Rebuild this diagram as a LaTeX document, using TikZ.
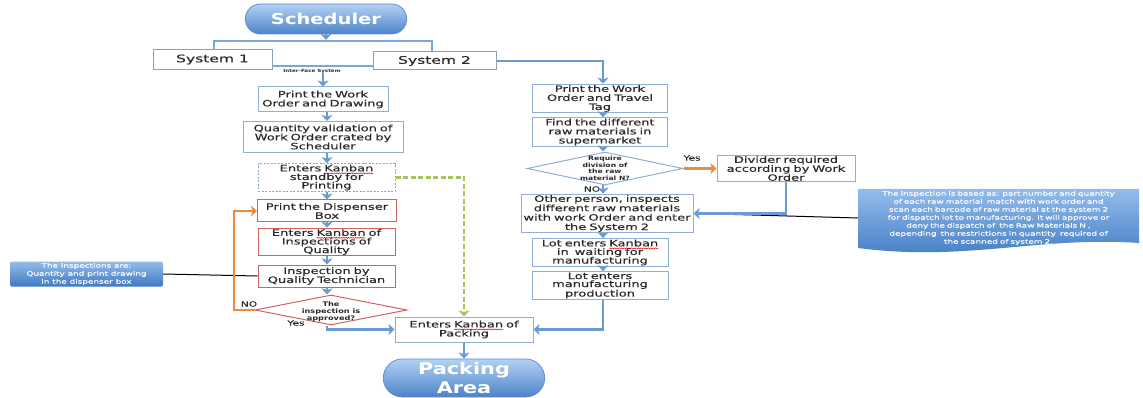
\documentclass[tikz,border=0pt]{standalone}
\usepackage{fontspec}
\usetikzlibrary{shapes.geometric,shapes.misc,arrows.meta,calc,decorations.pathmorphing}
\newfontfamily\dv{DejaVu Sans}[FakeStretch=1.3]
\newfontfamily\dvm{DejaVu Sans}[FakeStretch=1.48, FakeBold=0.3]
% red spelling squiggle under a word
\newlength\sqwidth
\newcommand\sq[1]{\settowidth\sqwidth{#1}%
  \rlap{#1}%
  \tikz[baseline=0pt,overlay]\draw[red, line width=0.5pt, solid, fill=none, -,
    decorate, decoration={snake, amplitude=0.5pt, segment length=2.4pt}]
    (0pt,-2pt) -- (\sqwidth,-2pt);%
  \kern\sqwidth}
\definecolor{boxblue}{HTML}{8EAFD6}
\definecolor{boxred}{HTML}{D2625F}
\definecolor{arrowblue}{HTML}{6A9BD3}
\definecolor{ifblue}{HTML}{7AA6DA}
\definecolor{orangeline}{HTML}{F08A3C}
\definecolor{greendash}{HTML}{A8C460}
\definecolor{pilltop}{HTML}{B3D2F3}
\definecolor{pillbot}{HTML}{4C83C9}
\definecolor{notetop}{HTML}{93BCEB}
\definecolor{notebot}{HTML}{3F79C2}
\definecolor{txt}{HTML}{2A2A2A}
\tikzset{
  box/.style={draw=boxblue, line width=1pt, fill=white, align=center, inner sep=1pt,
    text=txt, font=\dvm\fontsize{8.8}{9}\selectfont},
  redbox/.style={box, draw=boxred},
  dashbox/.style={box, draw=boxblue!80!gray, dash pattern=on 2pt off 1.5pt},
  sysbox/.style={draw=boxblue!70!gray, line width=1pt, fill=white, text=txt,
    font=\dvm\fontsize{10.5}{12}\selectfont},
  pill/.style={rounded rectangle, draw=pillbot!90!white, line width=0.8pt,
    top color=pilltop, bottom color=pillbot, text=white, align=center,
    font=\dv\bfseries\fontsize{15}{19}\selectfont},
  dia/.style={diamond, draw=boxblue, line width=1pt, fill=white, inner sep=0pt},
  reddia/.style={dia, draw=boxred},
  diatext/.style={align=center, text=txt, inner sep=0pt,
    font=\dv\bfseries\fontsize{5.9}{6.6}\selectfont},
  note/.style={text=white, align=center, inner sep=1pt,
    font=\dvm\fontsize{6}{8}\selectfont},
  lbl/.style={text=txt, inner sep=0pt, font=\dvm\fontsize{7.2}{8}\selectfont},
  arr/.style={draw=arrowblue, line width=2.5pt,
    -{Stealth[length=6pt,width=11pt,inset=1.5pt]}},
  oarr/.style={draw=orangeline, line width=2.5pt,
    -{Stealth[length=6pt,width=11pt,inset=1.5pt]}},
  garr/.style={draw=greendash, line width=2.5pt, dash pattern=on 5pt off 2.5pt,
    -{Stealth[length=6pt,width=11pt,inset=1.5pt]}},
  callout/.style={draw=black, line width=1pt},
}
\begin{document}
\begin{tikzpicture}[x=1pt,y=-1pt]
\useasboundingbox (0,0) rectangle (1143,398);

% top of the chart
\node[pill, minimum width=168, minimum height=30] (sched) at (326,19) {Scheduler};
\node[draw=ifblue, line width=2.2pt, minimum width=218, minimum height=25, inner sep=0pt] (iface) at (323,53.5) {};
\node[sysbox, minimum width=119, minimum height=20] (sys1) at (212.5,59.5) {System 1};
\node[sysbox, minimum width=123, minimum height=18] (sys2) at (434.5,61) {System 2};
\node[text=txt, inner sep=0pt, font=\dv\bfseries\fontsize{4.3}{5}\selectfont] (ifl) at (312,71) {Inter-Face System};

% left column
\node[box, minimum width=130, minimum height=25, text width=128] (pwo) at (323,99.5) {Print the Work\\Order and Drawing};
\node[box, minimum width=160, minimum height=31, text width=158] (qv) at (323,137) {Quantity validation of\\Work Order crated by\\Scheduler};
\node[dashbox, minimum width=137, minimum height=25, text width=135, font=\dvm\fontsize{8.8}{8.6}\selectfont] (ks) at (326.5,177.5) {Enters \sq{Kanban}\\standby for\\Printing};
\node[redbox, minimum width=139, minimum height=22, text width=137] (pdb) at (327,211) {Print the Dispenser\\Box};
\node[redbox, minimum width=137, minimum height=24, text width=135, font=\dvm\fontsize{8.8}{8.6}\selectfont] (kiq) at (326.5,242) {Enters \sq{Kanban} of\\Inspections of\\Quality};
\node[redbox, minimum width=137, minimum height=22, text width=135] (iqt) at (326.5,276) {Inspection by\\Quality Technician};
\node[reddia, minimum width=152, minimum height=30] (dq) at (331,310) {};
\node[diatext, font=\dv\bfseries\fontsize{6.3}{7}\selectfont] (dqt) at ([yshift=-1.5]dq.center) {The\\inspection is\\approved?};
\node[lbl] (dqno) at (249,304) {NO};
\node[lbl] (dqyes) at (296,323) {Yes};

% packing
\node[box, minimum width=138, minimum height=25, text width=136] (kp) at (464,329.5) {Enters \sq{Kanban} of\\Packing};
\node[pill, minimum width=168, minimum height=38, font=\dv\bfseries\fontsize{16}{19}\selectfont] (pa) at (464,378) {Packing\\Area};

% right column
\node[box, minimum width=135, minimum height=27, text width=133] (pwt) at (600,98.5) {Print the Work\\Order and Travel\\Tag};
\node[box, minimum width=135, minimum height=26, text width=133] (frm) at (600,132) {Find the different\\raw materials in\\supermarket};
\node[dia, minimum width=156, minimum height=33] (dr) at (605,168.5) {};
\node[diatext] (drt) at (dr.center) {Require\\division of\\the raw\\material N?};
\node[lbl] (dryes) at (692,158) {Yes};
\node[lbl] (drno) at (592,189) {NO};
\node[box, minimum width=138, minimum height=26, text width=136] (div) at (786,168.5) {Divider required\\according by Work\\Order};
\node[box, minimum width=172, minimum height=37, text width=170, font=\dvm\fontsize{8.8}{9.4}\selectfont] (op) at (607,213.5) {Other person, inspects\\different raw materials\\with work Order and enter\\the System 2};
\node[box, minimum width=136, minimum height=25, text width=134, font=\dvm\fontsize{8.8}{8.6}\selectfont] (lk) at (600,252.5) {Lot enters \sq{Kanban}\\in \ waiting for\\manufacturing};
\node[box, minimum width=136, minimum height=25, text width=134, font=\dvm\fontsize{8.8}{8}\selectfont] (lm) at (600,285.5) {Lot enters\\manufacturing\\production};

% notes
\node[note, rounded corners=1.5pt, top color=notetop, bottom color=notebot,
  minimum width=153, minimum height=25] (note1) at (86.5,274)
  {The inspections are:\\Quantity and print drawing\\in the dispenser box};
\shade[top color=notetop, bottom color=notebot]
  (858,189) -- (1139,189) -- (1139,243)
  .. controls (1040,236) and (965,262) .. (858,248) -- cycle;
\node[note, text width=279] (note2) at (998.5,218)
  {The inspection is based as: part number and quantity\\of each raw material \ match with work order and\\scan each barcode of raw material at the system 2\\for dispatch lot to manufacturing. It will approve or\\deny the dispatch of \ the Raw Materials N ,\\depending \ the restrictions in quantity \ required of\\the scanned of system 2.};

% callout leaders
\draw[callout] (note1.east) -- (iqt.west);
\draw[callout] (note2.west) -- ($(op.east)+(6,0)$);

% connectors, left side
\draw[arr] (sched.south) -- (sched.south |- iface.north);
\draw[arr] (ifl.south -| pwo.north) -- (pwo.north);
\coordinate (lcol) at (327,0);
\draw[arr] (pwo.south -| lcol) -- (lcol |- qv.north);
\draw[arr] (qv.south -| lcol) -- (lcol |- ks.north);
\draw[arr] (ks.south -| lcol) -- (lcol |- pdb.north);
\draw[arr] (pdb.south -| lcol) -- (lcol |- kiq.north);
\draw[arr] (kiq.south -| lcol) -- (lcol |- iqt.north);
\draw[arr] (iqt.south -| lcol) -- (lcol |- dq.north);
\coordinate (ocorner) at (234,310);
\draw[oarr] (dq.west) -- (dq.west -| ocorner) |- (pdb.west);
\draw[arr] (dq.south -| lcol) |- (kp.west);
\draw[garr] (ks.east) -| (kp.north);
\draw[arr] (kp.south) -- (pa.north);

% connectors, right side
\coordinate (rcol) at (603,0);
\draw[arr] (sys2.east) -| (rcol |- pwt.north);
\draw[arr] (pwt.south -| rcol) -- (rcol |- frm.north);
\draw[arr] (frm.south -| rcol) -- (rcol |- dr.north);
\draw[arr] (dr.south -| rcol) -- (rcol |- op.north);
\draw[oarr] (dr.east) -- (div.west);
\draw[arr] (div.south) |- (op.east);
\draw[arr] (op.south -| rcol) -- (rcol |- lk.north);
\draw[arr] (lk.south -| rcol) -- (rcol |- lm.north);
\draw[arr] (lm.south -| rcol) |- (kp.east);
\end{tikzpicture}
\end{document}
